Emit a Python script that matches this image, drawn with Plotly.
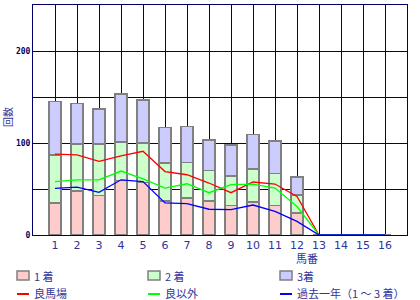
import plotly.graph_objects as go

horse_no = list(range(1, 17))
tick_labels = [str(i) for i in horse_no]
first = [35, 48, 43, 59, 57, 37, 40, 37, 32, 36, 32, 24, 0, 0, 0, 0]
second = [52, 51, 56, 42, 43, 41, 39, 33, 32, 36, 35, 19.5, 0, 0, 0, 0]
third = [58, 44, 38, 52, 47, 39, 39, 33, 34, 37, 35, 19.5, 0, 0, 0, 0]
good_track = [88, 87, 80, 86, 91, 69, 65.5, 56.5, 46, 57.6, 55.4, 42, 0, 0, 0, 0]
not_good = [58, 60, 60, 69.5, 61, 51, 55.7, 46, 54.7, 55.4, 51, 31, 0, 0, 0, 0]
past_year = [50.7, 52, 46.3, 60, 58, 34.8, 34, 28, 27.5, 32.6, 25.7, 14.8, 0, 0, 0, 0]

bar_names = ["1 着", "2 着", "3着"]
line_names = ["良馬場", "良以外", "過去一年（1 ～ 3 着）"]
bar_colors = ["#FFCCCC", "#CCFFCC", "#CCCCFF"]
line_colors = ["#FF0000", "#00FF00", "#0000FF"]

NAVY = "#000066"
TXT = "#333399"
JP = "Noto Sans CJK JP"

W, H = 420, 300
L, R, T, B = 33, 13, 5, 65
PW, PH = W - L - R, H - T - B


def px(x):
    return (x - L) / PW


def py(y):
    return (H - B - y) / PH


fig = go.Figure()
bar_line = dict(color="#808080", width=1.5)
for vals, name, col in zip([first, second, third], bar_names, bar_colors):
    fig.add_bar(x=horse_no, y=vals, name=name, width=0.55,
                marker=dict(color=col, line=bar_line))
for vals, name, col in zip([good_track, not_good, past_year], line_names, line_colors):
    fig.add_scatter(x=horse_no, y=vals, name=name, mode="lines",
                    line=dict(color=col, width=1.3))

shapes = []
annotations = []
col_x = [17, 148, 280]
for i in range(3):
    x0 = col_x[i]
    shapes.append(dict(type="rect", xref="paper", yref="paper",
                       x0=px(x0), x1=px(x0 + 12), y0=py(280), y1=py(271),
                       fillcolor=bar_colors[i], line=dict(color="#808080", width=1.5)))
    annotations.append(dict(text=bar_names[i], xref="paper", yref="paper",
                            x=px(x0 + 15), y=py(275.5), xanchor="left", yanchor="middle",
                            showarrow=False, font=dict(family=JP, size=11, color=TXT)))
    shapes.append(dict(type="line", xref="paper", yref="paper",
                       x0=px(x0), x1=px(x0 + 12), y0=py(294), y1=py(294),
                       line=dict(color=line_colors[i], width=2)))
    annotations.append(dict(text=line_names[i], xref="paper", yref="paper",
                            x=px(x0 + 15), y=py(292.5), xanchor="left", yanchor="middle",
                            showarrow=False, font=dict(family=JP, size=11, color=TXT)))

annotations.append(dict(text="馬番", xref="paper", yref="paper",
                        x=px(307), y=py(258), xanchor="center", yanchor="middle",
                        showarrow=False, font=dict(family=JP, size=11, color=TXT)))
annotations.append(dict(text="回数", xref="paper", yref="paper", textangle=-90,
                        x=px(8), y=py(117), xanchor="center", yanchor="middle",
                        borderpad=0,
                        showarrow=False, font=dict(family=JP, size=10, color=TXT)))

fig.update_layout(
    width=W, height=H,
    margin=dict(l=L, r=R, t=T, b=B, autoexpand=False),
    barmode="stack",
    plot_bgcolor="white", paper_bgcolor="white",
    font=dict(family=JP, color=TXT, size=11),
    showlegend=False,
    xaxis=dict(range=[0, 17], tickmode="array",
               tickvals=[0] + horse_no + [17], ticktext=[""] + tick_labels + [""],
               showgrid=True, gridcolor=NAVY, gridwidth=1,
               showline=True, linecolor=NAVY, linewidth=1, mirror=True,
               ticks="", zeroline=False, automargin=False,
               tickfont=dict(family="DejaVu Sans", size=11, color=TXT)),
    yaxis=dict(range=[0, 250], tickmode="array", tickvals=[0, 100, 200],
               ticktext=["0", "100", "200"],
               showgrid=True, gridcolor=NAVY, gridwidth=1,
               minor=dict(tickmode="array", tickvals=[50, 150, 250], showgrid=True,
                          gridcolor=NAVY, gridwidth=1),
               showline=True, linecolor=NAVY, linewidth=1, mirror=True,
               ticks="", zeroline=False, automargin=False,
               tickfont=dict(family="DejaVu Sans Mono", size=8, color=NAVY, weight="bold")),
    shapes=shapes,
    annotations=annotations,
)

fig.write_html("out.html")
